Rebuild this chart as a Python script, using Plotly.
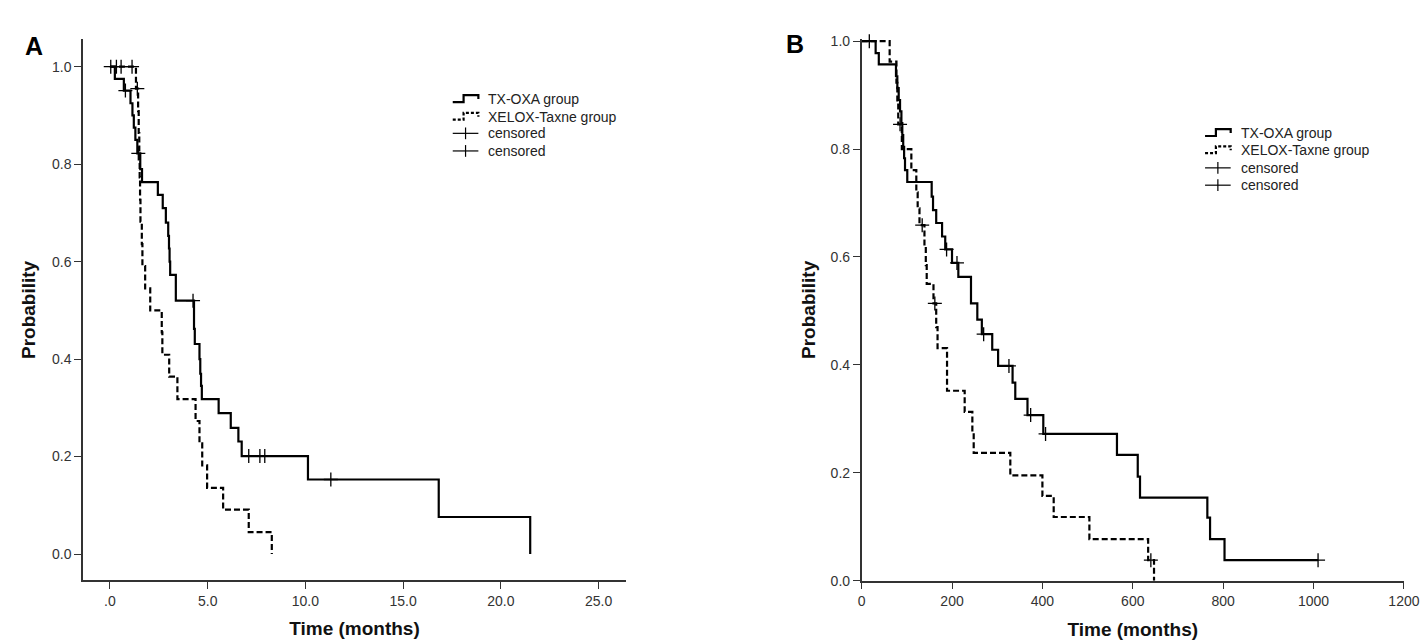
import plotly.graph_objects as go

# ---------------- Panel A data (months) ----------------
a_tx_time = [0, 0.25, 0.71, 1.05, 1.15, 1.22, 1.30, 1.40, 1.55, 1.64, 2.45, 2.70, 2.86, 2.98,
             3.02, 3.05, 3.08, 3.37, 4.30, 4.34, 4.58, 4.62, 4.66, 4.70, 5.56, 6.18, 6.57,
             6.74, 10.13, 16.82, 21.5]
a_tx_surv = [1.0, 0.975, 0.951, 0.925, 0.90, 0.875, 0.85, 0.822, 0.79, 0.763, 0.737, 0.71,
             0.68, 0.653, 0.627, 0.60, 0.573, 0.52, 0.462, 0.431, 0.40, 0.37, 0.345, 0.318,
             0.289, 0.259, 0.231, 0.201, 0.153, 0.076, 0.0]
a_tx_cens = [0.04, 0.79, 1.45, 4.25, 7.1, 7.67, 7.92, 11.3]

a_xe_time = [0, 1.33, 1.44, 1.47, 1.50, 1.52, 1.54, 1.56, 1.63, 1.66, 1.80, 2.06, 2.65, 2.68,
             3.03, 3.45, 4.38, 4.58, 4.72, 4.97, 5.79, 7.1, 8.28]
a_xe_surv = [1.0, 0.955, 0.909, 0.864, 0.818, 0.773, 0.727, 0.682, 0.636, 0.591, 0.545, 0.5,
             0.455, 0.409, 0.364, 0.318, 0.273, 0.227, 0.182, 0.136, 0.091, 0.045, 0.0]
a_xe_cens = [0.33, 0.57, 1.13, 1.40]

a_xticks = [0, 5, 10, 15, 20, 25]
a_xticktext = [".0", "5.0", "10.0", "15.0", "20.0", "25.0"]

# ---------------- Panel B data ----------------
b_tx_time = [0, 31, 38, 76, 79, 82, 85, 88, 90, 92, 94, 96, 101, 155, 158, 165, 178, 185, 200,
             214, 242, 256, 266, 289, 302, 334, 340, 367, 402, 565, 611, 616, 765, 771, 803]
b_tx_surv = [1.0, 0.978, 0.957, 0.935, 0.913, 0.891, 0.87, 0.848, 0.826, 0.804, 0.783, 0.761,
             0.739, 0.712, 0.687, 0.663, 0.638, 0.614, 0.589, 0.563, 0.514, 0.484, 0.457,
             0.428, 0.398, 0.367, 0.337, 0.307, 0.272, 0.233, 0.193, 0.154, 0.117, 0.077, 0.038]
b_tx_cens = [17, 188, 211, 270, 326, 374, 407, 1010]

b_xe_time = [0, 62, 77, 79, 81, 89, 110, 121, 124, 128, 139, 142, 144, 159, 165, 168, 189, 228,
             245, 248, 329, 400, 425, 504, 634, 647]
b_xe_surv = [1.0, 0.962, 0.923, 0.885, 0.846, 0.80, 0.761, 0.72, 0.69, 0.659, 0.62, 0.585, 0.55,
             0.514, 0.47, 0.431, 0.352, 0.313, 0.275, 0.237, 0.195, 0.157, 0.118, 0.077, 0.038, 0.0]
b_xe_cens = [85, 134, 162, 640]

b_xticks = [0, 200, 400, 600, 800, 1000, 1200]
b_xticktext = ["0", "200", "400", "600", "800", "1000", "1200"]

y_ticks = [0.0, 0.2, 0.4, 0.6, 0.8, 1.0]
y_ticktext = ["0.0", "0.2", "0.4", "0.6", "0.8", "1.0"]

names = ["TX-OXA group", "XELOX-Taxne group", "censored", "censored"]

W, H = 1428, 642


def px(x):
    return x / W


def py(y):
    return 1 - y / H


def surv_at(times, survs, t):
    val = survs[0]
    for ti, si in zip(times, survs):
        if ti <= t:
            val = si
    return val


def extend(times, survs, cens):
    # carry the curve out to the last censored observation
    tt, ss = list(times), list(survs)
    if cens and max(cens) > tt[-1]:
        tt.append(max(cens))
        ss.append(ss[-1])
    return tt, ss


FONT = "Liberation Sans, Arial, sans-serif"
fig = go.Figure()

panels = [
    ("x", "y", a_tx_time, a_tx_surv, a_tx_cens, a_xe_time, a_xe_surv, a_xe_cens),
    ("x2", "y2", b_tx_time, b_tx_surv, b_tx_cens, b_xe_time, b_xe_surv, b_xe_cens),
]

for xa, ya, t1, s1, c1, t2, s2, c2 in panels:
    tt1, ss1 = extend(t1, s1, c1)
    tt2, ss2 = extend(t2, s2, c2)
    fig.add_trace(go.Scatter(x=tt1, y=ss1, mode="lines", line=dict(color="black", width=2.2, shape="hv"),
                             name=names[0], xaxis=xa, yaxis=ya, showlegend=False))
    fig.add_trace(go.Scatter(x=tt2, y=ss2, mode="lines",
                             line=dict(color="black", width=2.2, shape="hv", dash="6px,3px"),
                             name=names[1], xaxis=xa, yaxis=ya, showlegend=False))
    fig.add_trace(go.Scatter(x=c1, y=[surv_at(t1, s1, c) for c in c1], mode="markers",
                             marker=dict(symbol="cross-thin", size=10, line=dict(color="black", width=1.3)),
                             name=names[2], xaxis=xa, yaxis=ya, showlegend=False, cliponaxis=False))
    fig.add_trace(go.Scatter(x=c2, y=[surv_at(t2, s2, c) for c in c2], mode="markers",
                             marker=dict(symbol="cross-thin", size=10, line=dict(color="black", width=1.3)),
                             name=names[3], xaxis=xa, yaxis=ya, showlegend=False, cliponaxis=False))

# ---------------- legends (drawn as SPSS-style key) ----------------
shapes = []
annotations = []


def add_key(x0, rows):
    x1 = x0 + 26
    xm = x0 + 11
    for i, (yr, label) in enumerate(zip(rows, names)):
        if i < 2:
            path = (f"M {px(x0)},{py(yr + 3)} L {px(xm)},{py(yr + 3)} L {px(xm)},{py(yr - 4)} "
                    f"L {px(x1)},{py(yr - 4)} L {px(x1)},{py(yr)}")
            shapes.append(dict(type="path", path=path, xref="paper", yref="paper",
                               line=dict(color="black", width=2.2, dash="solid" if i == 0 else "3px,2px")))
        else:
            shapes.append(dict(type="line", x0=px(x0), x1=px(x1), y0=py(yr), y1=py(yr),
                               xref="paper", yref="paper", line=dict(color="black", width=1.2)))
            shapes.append(dict(type="line", x0=px(x0 + 13), x1=px(x0 + 13), y0=py(yr - 6), y1=py(yr + 6),
                               xref="paper", yref="paper", line=dict(color="black", width=1.2)))
        annotations.append(dict(text=label, x=px(x0 + 34), y=py(yr), xref="paper", yref="paper",
                                xanchor="left", yanchor="middle", showarrow=False,
                                font=dict(family=FONT, size=14, color="#222")))


add_key(447, [87, 105, 122, 140])
add_key(1210, [121.7, 139.3, 157.3, 175])

annotations += [
    dict(text="<b>A</b>", x=px(11), y=py(16), xref="paper", yref="paper",
         showarrow=False, font=dict(family=FONT, size=25, color="black")),
    dict(text="<b>B</b>", x=px(794), y=py(14), xref="paper", yref="paper",
         showarrow=False, font=dict(family=FONT, size=25, color="black")),
]

axis_common = dict(showline=True, linecolor="#333", linewidth=1.5, ticks="outside", ticklen=7,
                   tickcolor="#333", tickwidth=1.3, showgrid=False, zeroline=False, mirror=False,
                   tickfont=dict(family=FONT, size=14, color="#333"))
title_font = dict(family=FONT, size=19, color="#111", weight="bold")

fig.update_layout(
    width=W, height=H, margin=dict(l=0, r=0, t=0, b=0),
    paper_bgcolor="white", plot_bgcolor="white",
    font=dict(family=FONT, color="#222"),
    showlegend=False,
    xaxis=dict(domain=[px(72), px(622.7)], range=[-1.38, 26.4], tickvals=a_xticks,
               ticktext=a_xticktext, title=dict(text="Time (months)", font=title_font, standoff=14),
               anchor="y", **axis_common),
    yaxis=dict(domain=[py(579), py(26)], range=[-0.054, 1.056], tickvals=y_ticks,
               ticktext=y_ticktext, title=dict(text="Probability", font=title_font, standoff=11),
               anchor="x", **axis_common),
    xaxis2=dict(domain=[px(861.7), px(1411.7)], range=[0, 1200], tickvals=b_xticks,
                ticktext=b_xticktext, title=dict(text="Time (months)", font=title_font, standoff=14),
                anchor="y2", **axis_common),
    yaxis2=dict(domain=[py(579.3), py(25.6)], range=[0, 1.004], tickvals=y_ticks,
                ticktext=y_ticktext, title=dict(text="Probability", font=title_font, standoff=10),
                anchor="x2", **axis_common),
    shapes=shapes,
    annotations=annotations,
)

fig.write_html("out.html")
